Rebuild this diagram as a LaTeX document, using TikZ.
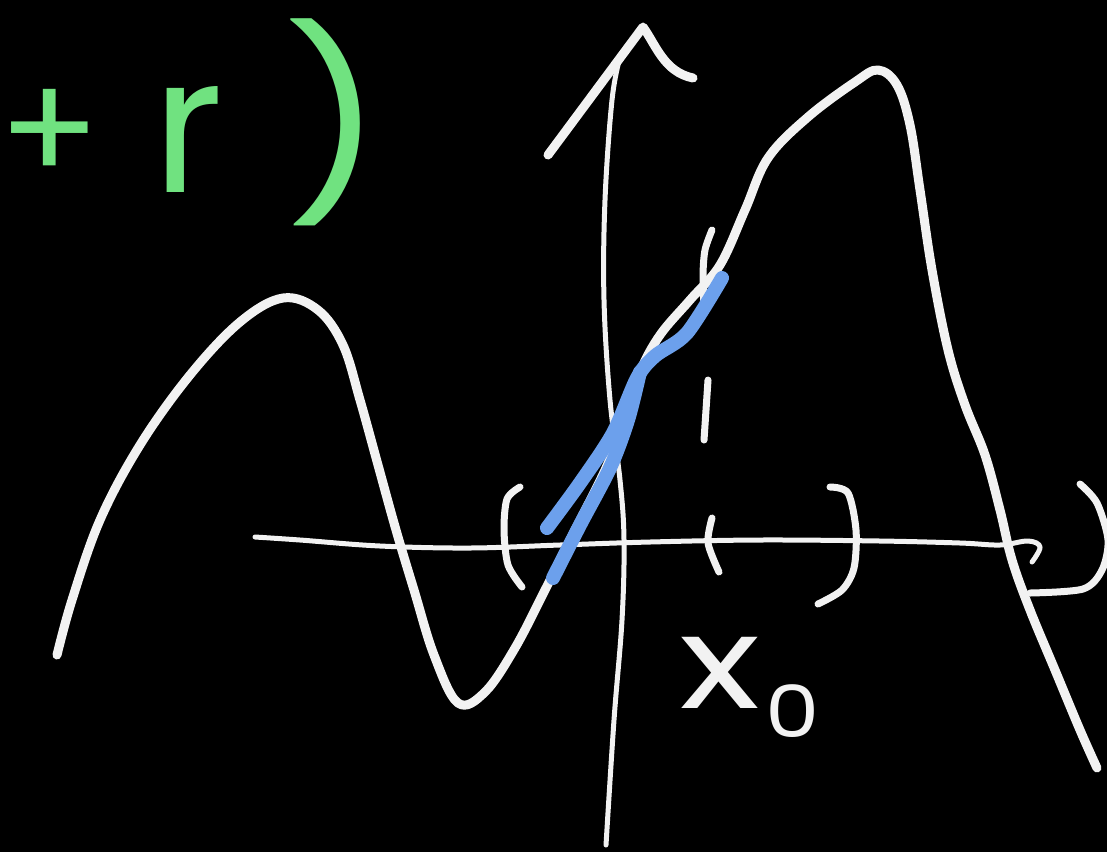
\documentclass[tikz,border=0pt]{standalone}
\usepackage{fontspec}
\newfontfamily\hand{Poppins}
\definecolor{chalk}{RGB}{242,242,242}
\definecolor{greenpen}{RGB}{112,226,128}
\definecolor{bluepen}{RGB}{108,160,236}
\tikzset{
  curve/.style={draw=chalk, line width=9pt, line cap=round, line join=round},
  axisline/.style={draw=chalk, line width=5pt, line cap=round, line join=round},
  tickline/.style={draw=chalk, line width=7pt, line cap=round, line join=round},
  bluestroke/.style={draw=bluepen, line width=14pt, line cap=round, line join=round},
  greentext/.style={text=greenpen, inner sep=0pt},
  whitetext/.style={text=chalk, inner sep=0pt}
}
\begin{document}
\begin{tikzpicture}[x=1pt,y=-1pt]
\useasboundingbox (0,0) rectangle (1107,852);
\fill[black] (0,0) rectangle (1107,852);
\clip (0,0) rectangle (1107,852);
% axes
\draw[axisline] plot[smooth, tension=0.6] coordinates {(255,537) (300,540) (380,546) (470,548) (560,545) (650,542) (760,540) (880,541) (960,543) (1000,545) (1028,541) (1040,547) (1032,562)};
\draw[axisline] plot[smooth, tension=0.6] coordinates {(606,845) (614,720) (622,620) (624,540) (620,480) (610,400) (604,300) (605,200) (612,100) (620,57)};
\coordinate (arrowL) at (548,155);
\coordinate (arrowTop) at (643,27);
\coordinate (arrowR) at (693,78);
\draw[curve] (arrowL) -- (arrowTop) .. controls (656,45) and (664,72) .. (arrowR);
% main curve
\draw[curve] plot[smooth, tension=0.6] coordinates {(57,655) (72,600) (100,520) (140,445) (190,375) (240,322) (283,298) (318,310) (343,345) (360,400) (378,465) (396,530) (414,590) (434,655) (458,703) (485,692) (515,648) (545,590) (575,530) (605,470) (625,420) (640,372) (660,335) (690,300) (720,265) (745,210) (768,158) (808,117) (855,82) (878,70) (897,85) (910,125) (920,190) (932,270) (948,350) (965,405) (985,455) (1000,510) (1012,560) (1030,610) (1055,670) (1080,730) (1097,768)};
% brackets
\draw[tickline] plot[smooth] coordinates {(520,487) (507,499) (504,530) (508,565) (522,587)};
\draw[tickline] plot[smooth] coordinates {(830,487) (848,493) (856,530) (854,568) (842,590) (818,604)};
\draw[tickline] plot[smooth] coordinates {(1080,484) (1097,503) (1108,540) (1102,570) (1083,589) (1030,593)};
% x0 ticks
\draw[tickline] plot[smooth] coordinates {(712,230) (705,250) (703,275) (704,310)};
\draw[tickline] (708,380) -- (704,440);
\draw[tickline] plot[smooth] coordinates {(712,518) (708,543) (719,572)};
% blue tangent strokes
\draw[bluestroke] plot[smooth] coordinates {(547,528) (580,483) (613,433) (637,378) (655,356) (687,333) (722,278)};
\draw[bluestroke] plot[smooth] coordinates {(553,578) (580,525) (610,468) (628,420) (640,372)};
% labels
\node[whitetext, font=\hand\fontsize{130}{130}\selectfont, anchor=base, xscale=1.3] (xlab) at (720,708) {x};
\node[whitetext, font=\hand\fontsize{72}{72}\selectfont, anchor=base, xscale=1.2] (sublab) at (793,737) {0};
\node[greentext, font=\hand\fontsize{150}{150}\selectfont] (plus) at (50,136) {+};
\node[greentext, font=\hand\fontsize{190}{190}\selectfont, anchor=base] (rlab) at (188,192) {r};
\node[greentext, font=\hand\fontsize{185}{185}\selectfont, xscale=1.2] (paren) at (334,122) {)};
\end{tikzpicture}
\end{document}
